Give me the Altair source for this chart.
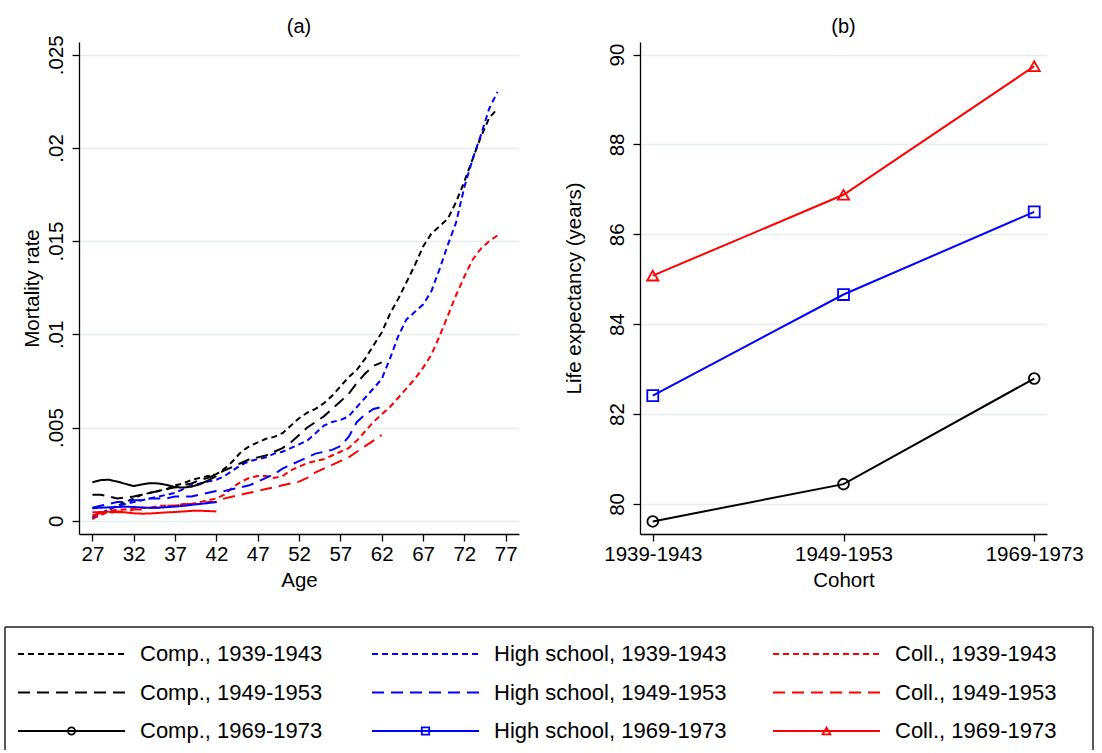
import altair as alt
import pandas as pd

FONT = "Liberation Sans"

# ---- categories ---------------------------------------------------------
edus = ["Comp.", "High school", "Coll."]
cohorts = ["1939-1943", "1949-1953", "1969-1973"]
edu_colors = ["#000000", "#0000ff", "#ff0000"]
edu_shapes = ["circle", "square", "triangle-up"]
cohort_dashes = [[6, 4], [12, 7], [1, 0]]

# ---- panel (a): mortality rate by age -----------------------------------
ages_3943 = list(range(27, 77))
ages_4953 = list(range(27, 63))
ages_6973 = list(range(27, 43))

comp_3943 = [0.0001, 0.0004, 0.0006, 0.0008, 0.0010, 0.0012, 0.0014, 0.0015, 0.0016, 0.0017,
             0.0019, 0.0020, 0.0022, 0.0023, 0.0024, 0.0025, 0.0028, 0.0032, 0.0037, 0.0040,
             0.0042, 0.0044, 0.0045, 0.0047, 0.0051, 0.0055, 0.0058, 0.0060, 0.0063, 0.0067,
             0.0072, 0.0077, 0.0081, 0.0087, 0.0094, 0.0101, 0.0111, 0.0119, 0.0128, 0.0137,
             0.0147, 0.0154, 0.0158, 0.0162, 0.0171, 0.0182, 0.0194, 0.0206, 0.0216, 0.0221]
hs_3943 = [0.0002, 0.0004, 0.0006, 0.0008, 0.0009, 0.0010, 0.0011, 0.0012, 0.0013, 0.0014,
           0.0015, 0.0017, 0.0019, 0.0020, 0.0021, 0.0022, 0.0024, 0.0027, 0.0030, 0.0032,
           0.0033, 0.0034, 0.0036, 0.0037, 0.0039, 0.0041, 0.0043, 0.0047, 0.0051, 0.0053,
           0.0054, 0.0056, 0.0061, 0.0066, 0.0071, 0.0076, 0.0087, 0.0099, 0.0108, 0.0112,
           0.0116, 0.0123, 0.0135, 0.0148, 0.0160, 0.0179, 0.0194, 0.0207, 0.0221, 0.0230]
coll_3943 = [0.0001, 0.0003, 0.0005, 0.0006, 0.0006, 0.0007, 0.0007, 0.0007, 0.0008, 0.0008,
             0.0008, 0.0009, 0.0009, 0.0010, 0.0011, 0.0012, 0.0014, 0.0018, 0.0021, 0.0023,
             0.0024, 0.0024, 0.0023, 0.0024, 0.0027, 0.0029, 0.0031, 0.0032, 0.0033, 0.0035,
             0.0037, 0.0039, 0.0043, 0.0048, 0.0053, 0.0057, 0.0061, 0.0066, 0.0071, 0.0076,
             0.0082, 0.0089, 0.0099, 0.0110, 0.0121, 0.0131, 0.0140, 0.0146, 0.0150, 0.0153]

comp_4953 = [0.0014, 0.0014, 0.0013, 0.0012, 0.00125, 0.0013, 0.0014, 0.0015, 0.0016, 0.0017,
             0.0018, 0.0019, 0.0020, 0.0022, 0.0023, 0.0025, 0.0027, 0.0029, 0.0031, 0.0033,
             0.0034, 0.0035, 0.0037, 0.0039, 0.0042, 0.0046, 0.0050, 0.0053, 0.0056, 0.0060,
             0.0064, 0.0068, 0.0074, 0.0079, 0.0083, 0.0085]
hs_4953 = [0.0007, 0.0008, 0.0009, 0.0010, 0.0010, 0.0011, 0.0011, 0.0012, 0.0012, 0.0012,
           0.0013, 0.0013, 0.0013, 0.0014, 0.0015, 0.0016, 0.0016, 0.0017, 0.0018, 0.0019,
           0.0021, 0.0023, 0.0025, 0.0028, 0.0030, 0.0032, 0.0034, 0.0036, 0.0037, 0.0038,
           0.0040, 0.0045, 0.0053, 0.0057, 0.0060, 0.0061]
coll_4953 = [0.0003, 0.0004, 0.0004, 0.0005, 0.0005, 0.0006, 0.0006, 0.0007, 0.0007, 0.0008,
             0.0008, 0.0009, 0.0009, 0.0009, 0.0010, 0.0010, 0.0012, 0.0013, 0.0014, 0.0015,
             0.0016, 0.0017, 0.0018, 0.0019, 0.0020, 0.0021, 0.0023, 0.0026, 0.0028, 0.0030,
             0.0032, 0.0034, 0.0037, 0.0040, 0.0043, 0.0046]

comp_6973 = [0.00207, 0.00218, 0.00220, 0.00210, 0.00198, 0.00186, 0.00195, 0.00202,
             0.00200, 0.00192, 0.00180, 0.00178, 0.00183, 0.00196, 0.00216, 0.00240]
hs_6973 = [0.00067, 0.00070, 0.00072, 0.00074, 0.00075, 0.00074, 0.00071, 0.00069,
           0.00070, 0.00073, 0.00076, 0.00080, 0.00085, 0.00090, 0.00095, 0.00100]
coll_6973 = [0.00045, 0.00047, 0.00048, 0.00046, 0.00045, 0.00040, 0.00038, 0.00039,
             0.00042, 0.00045, 0.00047, 0.00050, 0.00053, 0.00054, 0.00052, 0.00050]

age_ticks = [27, 32, 37, 42, 47, 52, 57, 62, 67, 72, 77]
rate_ticks = [0, 0.005, 0.01, 0.015, 0.02, 0.025]

# ---- panel (b): life expectancy by cohort -------------------------------
comp_le = [79.61, 80.44, 82.79]
hs_le = [82.41, 84.66, 86.50]
coll_le = [85.08, 86.88, 89.74]
le_ticks = [80, 82, 84, 86, 88, 90]

# ---- tables -------------------------------------------------------------
series_a = [
    ("Comp.", "1939-1943", ages_3943, comp_3943),
    ("High school", "1939-1943", ages_3943, hs_3943),
    ("Coll.", "1939-1943", ages_3943, coll_3943),
    ("Comp.", "1949-1953", ages_4953, comp_4953),
    ("High school", "1949-1953", ages_4953, hs_4953),
    ("Coll.", "1949-1953", ages_4953, coll_4953),
    ("Comp.", "1969-1973", ages_6973, comp_6973),
    ("High school", "1969-1973", ages_6973, hs_6973),
    ("Coll.", "1969-1973", ages_6973, coll_6973),
]
rows = []
for edu, coh, ages, vals in series_a:
    for a, v in zip(ages, vals):
        rows.append({"edu": edu, "cohort": coh, "series": f"{edu}, {coh}", "age": a, "rate": v})
mort = pd.DataFrame(rows)

le_rows = []
for edu, vals in zip(edus, [comp_le, hs_le, coll_le]):
    for coh, v in zip(cohorts, vals):
        le_rows.append({"edu": edu, "cohort": coh, "le": v})
life = pd.DataFrame(le_rows)

leg_rows = []
for ci, edu in enumerate(edus):
    for ri, coh in enumerate(cohorts):
        leg_rows.append({"edu": edu, "cohort": coh, "label": f"{edu}, {coh}", "col": ci, "row": ri})
leg = pd.DataFrame(leg_rows)

# ---- shared scales ------------------------------------------------------
color_scale = alt.Scale(domain=edus, range=edu_colors)
dash_scale = alt.Scale(domain=cohorts, range=cohort_dashes)
shape_scale = alt.Scale(domain=edus, range=edu_shapes)

axis_common = dict(
    labelFont=FONT, titleFont=FONT, labelFontSize=20.5, titleFontSize=20.5,
    labelColor="#000000", titleColor="#000000", titleFontWeight="normal",
    domainColor="#000000", domainWidth=1.3, tickColor="#000000", tickWidth=1.3,
    tickSize=7,
)

W_A, W_B, H = 440, 407, 492
one = alt.Data(values=[{}])


def panel_title(txt, width):
    return alt.Chart(one).mark_text(
        font=FONT, fontSize=20, color="#000000", align="center", baseline="alphabetic"
    ).encode(x=alt.value(width / 2), y=alt.value(-9), text=alt.value(txt))


rate_label = "datum.value == 0 ? '0' : replace(format(datum.value, '.3~f'), '0.', '.')"

lines_a = alt.Chart(mort).mark_line(strokeWidth=2).encode(
    x=alt.X("age:Q", scale=alt.Scale(domain=[25.38, 78.61], nice=False, zero=False),
            axis=alt.Axis(values=age_ticks, title="Age", grid=False, labelPadding=3,
                          titleY=52, titleBaseline="alphabetic", **axis_common)),
    y=alt.Y("rate:Q", scale=alt.Scale(domain=[-0.00071, 0.02568], nice=False, zero=False),
            axis=alt.Axis(values=rate_ticks, labelExpr=rate_label, title="Mortality rate",
                          grid=True, gridColor="#e6eef0", gridWidth=1.5,
                          labelAngle=270, labelAlign="center", labelBaseline="alphabetic",
                          labelPadding=10, titleX=-41, titleY=H / 2,
                          titleBaseline="alphabetic", **axis_common)),
    color=alt.Color("edu:N", scale=color_scale, legend=None),
    strokeDash=alt.StrokeDash("cohort:N", scale=dash_scale, legend=None),
    detail="series:N",
)

# ---- legend, drawn below panel (a) --------------------------------------
LEG_TOP = 585            # distance from the plot top to the legend frame
LEG_BOTTOM = 708
leg_x = alt.X("col:Q", scale=alt.Scale(domain=[0, 1, 2], range=[-61, 293, 694]), axis=None)
leg_y = alt.Y("row:Q", scale=alt.Scale(domain=[0, 2], range=[LEG_TOP + 27, LEG_TOP + 104]),
              axis=None)
leg_base = alt.Chart(leg).encode(x=leg_x, y=leg_y)

leg_lines = leg_base.mark_rule(strokeWidth=2, x2Offset=107).encode(
    x2="col:Q",
    color=alt.Color("edu:N", scale=color_scale, legend=None),
    strokeDash=alt.StrokeDash("cohort:N", scale=dash_scale, legend=None),
)
leg_marks = leg_base.transform_filter(alt.datum.cohort == cohorts[2]).mark_point(
    filled=False, strokeWidth=1.8, opacity=1, xOffset=53.5
).encode(
    color=alt.Color("edu:N", scale=color_scale, legend=None),
    shape=alt.Shape("edu:N", scale=shape_scale, legend=None),
    size=alt.Size("edu:N", scale=alt.Scale(domain=edus, range=[50, 60, 95]), legend=None),
)
leg_text = leg_base.mark_text(align="left", baseline="middle", dx=122,
                              font=FONT, fontSize=22, color="#000000").encode(text="label:N")

box_style = dict(color="#222222", strokeWidth=1.5)
box_top = alt.Chart(one).mark_rule(**box_style).encode(
    x=alt.value(-74), x2=alt.value(1014), y=alt.value(LEG_TOP))
box_left = alt.Chart(one).mark_rule(**box_style).encode(
    x=alt.value(-74), y=alt.value(LEG_TOP), y2=alt.value(LEG_BOTTOM))
box_right = alt.Chart(one).mark_rule(**box_style).encode(
    x=alt.value(1014), y=alt.value(LEG_TOP), y2=alt.value(LEG_BOTTOM))

panel_a = alt.layer(
    lines_a, panel_title("(a)", W_A),
    box_top, box_left, box_right, leg_lines, leg_marks, leg_text,
).resolve_scale(x="independent", y="independent").properties(width=W_A, height=H)

# ---- panel (b) ----------------------------------------------------------
x_b = alt.X("cohort:N", sort=cohorts, scale=alt.Scale(type="point", padding=0.067),
            axis=alt.Axis(title="Cohort", labelAngle=0, grid=False, labelPadding=3,
                          titleY=52, titleBaseline="alphabetic", **axis_common))
y_b = alt.Y("le:Q", scale=alt.Scale(domain=[79.33, 90.28], nice=False, zero=False),
            axis=alt.Axis(values=le_ticks, title="Life expectancy (years)",
                          grid=True, gridColor="#e6eef0", gridWidth=1.5,
                          labelAngle=270, labelAlign="center", labelBaseline="alphabetic",
                          labelPadding=10, titleX=-60, titleY=H / 2,
                          titleBaseline="alphabetic", **axis_common))

base_b = alt.Chart(life).encode(
    x=x_b, y=y_b,
    color=alt.Color("edu:N", scale=color_scale, legend=None),
)
panel_b = alt.layer(
    base_b.mark_line(strokeWidth=2),
    base_b.mark_point(filled=False, strokeWidth=1.8, opacity=1).encode(
        shape=alt.Shape("edu:N", scale=shape_scale, legend=None),
        size=alt.Size("edu:N", scale=alt.Scale(domain=edus, range=[115, 125, 180]), legend=None),
    ),
    panel_title("(b)", W_B),
).properties(width=W_B, height=H)

chart = alt.hconcat(panel_a, panel_b, spacing=121, bounds="flush").resolve_scale(
    size="independent"
).properties(
    padding={"left": 4, "top": 17, "right": 2, "bottom": 0},
    background="#ffffff",
).configure_view(stroke=None)

chart.save("out.html", embed_options={"renderer": "svg", "actions": False})
